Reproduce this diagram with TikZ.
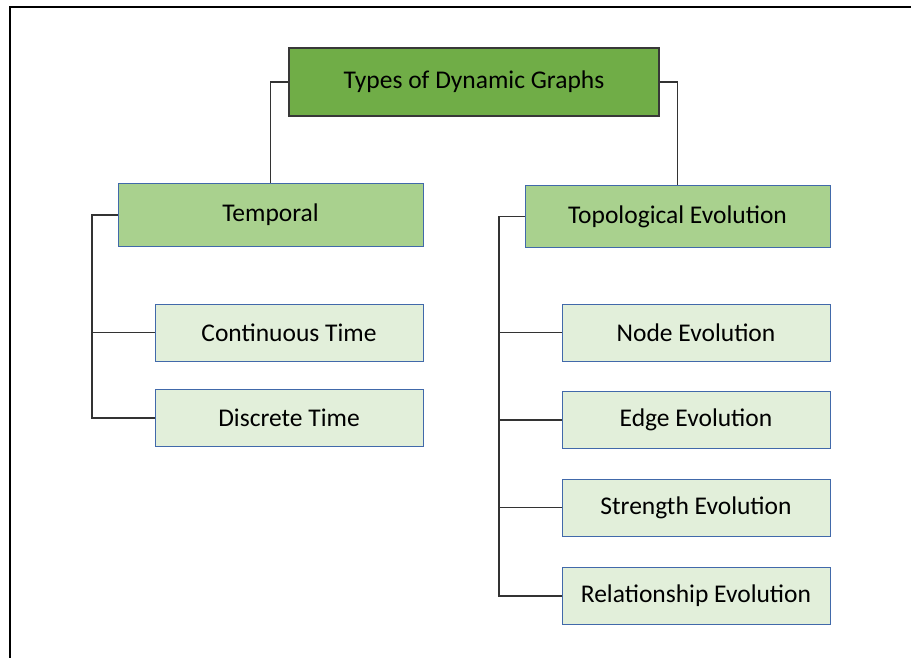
\documentclass[tikz,border=0pt]{standalone}
\usepackage{fontspec}
\setmainfont{Carlito}
\begin{document}
\begin{tikzpicture}[x=1pt,y=-1pt,
  boxfont/.style={font=\fontsize{25.5}{30}\selectfont},
  rootbox/.style={boxfont,draw=black!78,line width=1.4pt,fill={rgb,255:red,112;green,173;blue,71},
    minimum width=370pt,minimum height=68pt,inner sep=0pt},
  midbox/.style={boxfont,draw={rgb,255:red,65;green,105;blue,170},line width=1pt,fill={rgb,255:red,169;green,209;blue,142},
    minimum width=305pt,minimum height=62pt,inner sep=0pt},
  leafbox/.style={boxfont,draw={rgb,255:red,65;green,105;blue,170},line width=1pt,fill={rgb,255:red,226;green,239;blue,218},
    minimum width=268pt,minimum height=57pt,inner sep=0pt},
  link/.style={draw=black!80,line width=1.2pt}]
\useasboundingbox (0,0) rectangle (911,658);
\fill[white] (0,0) rectangle (911,658);
% frame lines on the left and top edges
\draw[line width=2pt] (10,658) -- (10,7) -- (911,7);

\node[rootbox] (root) at (474,82) {Types of Dynamic Graphs};

\node[midbox] (temporal) at (270.5,215) {Temporal};
\node[leafbox] (cont) at (289,332.5) {Continuous Time};
\node[leafbox] (disc) at (289,418) {Discrete Time};

\node[midbox] (topo) at (677.5,216.5) {Topological Evolution};
\node[leafbox] (nodeev) at (696,332.5) {Node Evolution};
\node[leafbox] (edgeev) at (696,420) {Edge Evolution};
\node[leafbox] (strev) at (696,507.5) {Strength Evolution};
\node[leafbox] (relev) at (696,596) {Relationship Evolution};

% root to the two categories
\draw[link] (root.west) -| (temporal.north);
\draw[link] (root.east) -| (topo.north);

% temporal branch
\coordinate (tspine) at (92,215);
\draw[link] (temporal.west) -- (tspine) |- (disc.west);
\draw[link] (cont.west) -- (cont.west -| tspine);

% topological branch
\coordinate (pspine) at (499,216.5);
\draw[link] (topo.west) -- (pspine) |- (relev.west);
\draw[link] (nodeev.west) -- (nodeev.west -| pspine);
\draw[link] (edgeev.west) -- (edgeev.west -| pspine);
\draw[link] (strev.west) -- (strev.west -| pspine);
\end{tikzpicture}
\end{document}
